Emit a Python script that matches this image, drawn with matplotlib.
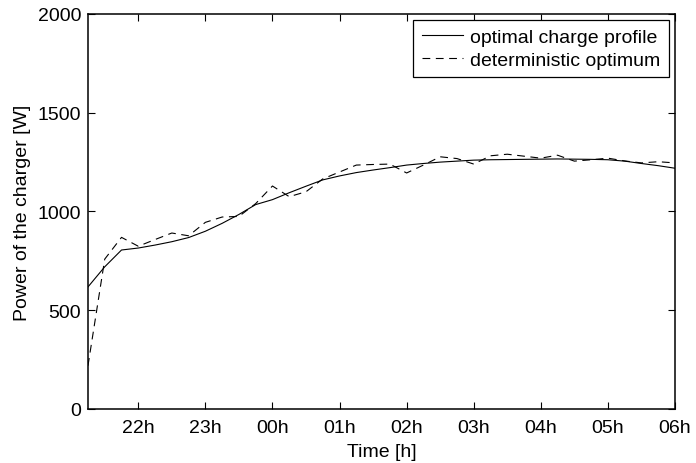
import matplotlib
matplotlib.use("Agg")
import matplotlib.pyplot as plt
import numpy as np

# time in hours since midnight of the first day (24 = 00h), 15 min steps
hours = np.arange(21.25, 30.01, 0.25)

optimal = [618, 720, 805, 815, 830, 847, 868, 900, 940, 985, 1035, 1060,
           1095, 1128, 1160, 1180, 1197, 1210, 1222, 1235, 1243, 1250, 1255, 1260,
           1262, 1263, 1264, 1265, 1266, 1265, 1264, 1262, 1255, 1243, 1232, 1219]

deterministic = [219, 759, 869, 824, 858, 891, 877, 945, 972, 975, 1040, 1129,
                 1075, 1100, 1165, 1200, 1235, 1238, 1240, 1195, 1235, 1277, 1268, 1240,
                 1282, 1290, 1280, 1270, 1285, 1255, 1262, 1270, 1256, 1246, 1252, 1246]

tick_hours = [22, 23, 24, 25, 26, 27, 28, 29, 30]
tick_labels = ['%02dh' % (h % 24) for h in tick_hours]

plt.rcParams['font.family'] = ['Liberation Sans', 'DejaVu Sans']
plt.rcParams['font.size'] = 14

fig = plt.figure(figsize=(6.96, 4.64), dpi=100)
ax = fig.add_axes([0.1264, 0.1164, 0.8434, 0.8513])

ax.plot(hours, optimal, color='black', lw=0.8, label='optimal charge profile')
ax.plot(hours, deterministic, color='black', lw=0.8, dashes=(7, 5),
        label='deterministic optimum')

ax.set_xlim(21.25, 30)
ax.set_ylim(0, 2000)
ax.set_xticks(tick_hours)
ax.set_xticklabels(tick_labels)
ax.set_yticks([0, 500, 1000, 1500, 2000])

ax.tick_params(direction='in', top=True, right=True, length=5, width=0.8)
ax.tick_params(axis='x', pad=7)
ax.tick_params(axis='y', pad=5)
for s in ax.spines.values():
    s.set_linewidth(1.1)

ax.set_xlabel('Time [h]', labelpad=5)
ax.set_ylabel('Power of the charger [W]', labelpad=5)

leg = ax.legend(loc='upper right', frameon=True, fancybox=False, framealpha=1,
                edgecolor='black', borderpad=0.45, labelspacing=0.25,
                handlelength=2.15, handletextpad=0.35, borderaxespad=0.3)
leg.get_frame().set_linewidth(0.9)

fig.savefig('out.png', dpi=100)
